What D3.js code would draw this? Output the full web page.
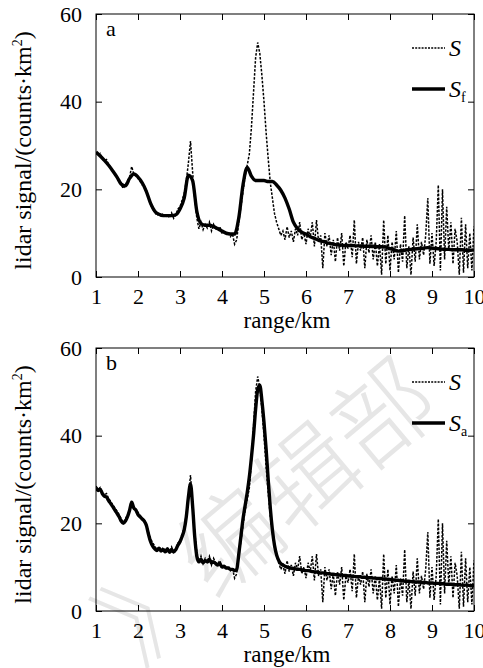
<!DOCTYPE html>
<html>
<head>
<meta charset="utf-8">
<script src="https://cdn.jsdelivr.net/npm/d3@7"></script>
<style>
  body { margin: 0; background: #fff; }
  svg { display: block; }
  text { font-family: "Liberation Serif", "Times New Roman", serif; fill: #000; }
</style>
</head>
<body>
<svg width="483" height="668"></svg>
<script>
// raw lidar signal S, 1.00 .. 10.00 km every 0.05 km
const sRaw = [
  28.5, 27.8, 28.2, 27.0, 26.5, 26.8, 25.6, 25.0, 24.2, 23.5, 22.8, 22.0, 21.0, 20.2, 21.0, 22.0, 22.8, 25.2, 23.5, 23.2,
  22.5, 21.8, 21.0, 20.8, 19.8, 18.0, 16.5, 15.5, 14.8, 14.0, 14.6, 13.8, 14.5, 13.6, 14.3, 13.5, 14.6, 13.4, 14.2, 15.5,
  16.0, 17.5, 19.0, 22.0, 26.0, 31.0, 24.0, 18.0, 13.5, 11.0, 12.5, 10.8, 12.0, 11.2, 12.5, 10.5, 12.0, 11.0, 10.8, 11.5,
  9.8, 10.5, 9.5, 10.2, 9.2, 9.8, 7.5, 8.5, 12.5, 16.0, 19.5, 23.0, 25.5, 28.0, 34.0, 42.0, 50.0, 53.5, 51.0, 46.0,
  40.0, 33.0, 27.0, 21.5, 18.0, 14.5, 12.5, 11.0, 9.5, 10.5, 8.5, 11.5, 9.0, 10.5, 8.0, 11.0, 9.5, 12.5, 8.5, 10.0,
  7.5, 11.0, 9.0, 12.5, 7.0, 13.0, 8.0, 9.5, 2.0, 10.0, 7.0, 9.5, 5.0, 8.5, 3.5, 9.0, 6.0, 10.0, 2.5, 8.0,
  6.5, 9.5, 4.5, 13.0, 3.0, 8.0, 6.0, 9.0, 2.0, 8.5, 5.5, 9.5, 4.0, 8.0, 2.5, 7.5, 0.5, 13.0, 3.0, 9.5,
  1.5, 8.0, 4.0, 10.5, 1.0, 7.5, 3.5, 14.0, 2.0, 7.0, 0.5, 9.0, 3.5, 12.0, 4.0, 8.0, 5.0, 9.5, 18.0, 3.0,
  10.0, 2.5, 8.0, 21.0, 1.5, 20.0, 4.0, 16.0, 6.0, 12.5, 3.0, 11.0, 8.0, 0.5, 13.5, 1.0, 12.0, 2.0, 10.0, 1.5,
  11.5
]
const sRawStep = 0.05

// filtered signal Sf (panel a), every 0.1 km
const sFiltered = [
  28.5, 27.6, 26.6, 25.5, 24.2, 22.8, 21.2, 20.8, 22.5, 23.5,
  22.8, 21.5, 19.5, 16.8, 15.0, 14.3, 14.0, 14.0, 14.0, 14.2,
  15.5, 18.0, 23.2, 22.0, 15.0, 12.2, 11.8, 11.8, 11.5, 11.0,
  10.5, 10.0, 9.8, 9.8, 13.5, 21.0, 25.0, 23.0, 22.0, 22.0,
  22.0, 21.8, 21.8, 21.0, 19.8, 18.0, 15.5, 12.5, 11.0, 10.2,
  9.8, 9.2, 8.8, 8.4, 8.1, 7.8, 7.6, 7.4, 7.3, 7.2,
  7.2, 7.2, 7.1, 7.1, 7.0, 7.0, 7.0, 6.9, 6.9, 6.8,
  6.5, 6.2, 5.9, 6.0, 6.2, 6.3, 6.4, 6.5, 6.6, 6.7,
  6.6, 6.5, 6.4, 6.3, 6.3, 6.2, 6.2, 6.2, 6.1, 6.1,
  6.2
]
const sFilteredStep = 0.1

// adaptive filtered signal Sa (panel b), every 0.05 km
const sAdaptive = [
  28.0, 27.5, 27.8, 26.8, 26.2, 26.0, 25.2, 24.5, 23.8, 23.0, 22.3, 21.5, 20.5, 20.0, 20.5, 21.5, 23.0, 24.8, 23.5, 23.0,
  22.0, 21.5, 21.0, 20.5, 19.5, 17.5, 15.8, 14.8, 14.2, 13.8, 14.3, 13.7, 14.0, 13.5, 14.2, 13.4, 14.0, 13.5, 14.0, 15.0,
  15.8, 17.0, 18.5, 21.5, 26.0, 29.0, 24.0, 17.0, 12.5, 11.2, 11.8, 11.0, 11.5, 11.2, 11.8, 11.0, 11.2, 10.8, 10.5, 10.8,
  10.0, 10.2, 9.8, 9.8, 9.5, 9.5, 9.2, 9.5, 13.0, 17.0, 21.0, 24.0, 27.0, 30.5, 35.0, 40.0, 46.0, 50.5, 51.5, 48.0,
  43.0, 37.0, 30.0, 23.5, 18.5, 15.0, 12.8, 11.5, 10.8, 10.5, 10.2, 10.0, 9.9, 9.8, 9.7, 9.6, 9.5, 9.5, 9.4, 9.3,
  9.2, 9.2, 9.1, 9.0, 8.9, 8.9, 8.8, 8.7, 8.7, 8.6, 8.5, 8.5, 8.4, 8.4, 8.3, 8.3, 8.2, 8.2, 8.1, 8.1,
  8.0, 8.0, 7.9, 7.9, 7.8, 7.8, 7.8, 7.7, 7.7, 7.6, 7.6, 7.6, 7.5, 7.5, 7.4, 7.4, 7.4, 7.3, 7.3, 7.2,
  7.2, 7.1, 7.1, 7.0, 7.0, 6.9, 6.9, 6.8, 6.8, 6.8, 6.7, 6.7, 6.6, 6.6, 6.6, 6.5, 6.5, 6.5, 6.4, 6.4,
  6.4, 6.3, 6.3, 6.3, 6.2, 6.2, 6.2, 6.1, 6.1, 6.1, 6.0, 6.0, 6.0, 6.0, 5.9, 5.9, 5.9, 5.9, 5.8, 5.8,
  5.8
]
const sAdaptiveStep = 0.05

const xTicks = [1, 2, 3, 4, 5, 6, 7, 8, 9, 10]
const yTicks = [0, 20, 40, 60]

const panels = [
  { label: 'a', top: 14, smooth: sFiltered, step: sFilteredStep, sub: 'f' },
  { label: 'b', top: 348, smooth: sAdaptive, step: sAdaptiveStep, sub: 'a' }
]

let svg = d3.select('svg')
let left = 96
let right = 474
let plotH = 263
let font = '"Liberation Serif", "Times New Roman", serif'

// watermark of the journal, behind everything
svg.append('text')
  .attr('transform', 'translate(230,542) rotate(-40)')
  .attr('x', -150)
  .attr('y', 36)
  .style('font-family', '"Noto Sans CJK SC", sans-serif')
  .style('font-size', '100px')
  .style('font-weight', 300)
  .style('fill', '#e6e6e6')
  .text('》编辑部')

let x = d3.scaleLinear().domain([1, 10]).range([left, right])

function toPoints (values, step) {
  return values.map(function (v, i) { return [1 + i * step, v] })
}

panels.forEach(function (p, k) {
  let y = d3.scaleLinear().domain([0, 60]).range([p.top + plotH, p.top])
  let g = svg.append('g')

  let clipId = 'clip' + k
  svg.append('clipPath').attr('id', clipId)
    .append('rect')
    .attr('x', left).attr('y', p.top)
    .attr('width', right - left).attr('height', plotH)

  let line = d3.line()
    .x(function (d) { return x(d[0]) })
    .y(function (d) { return y(d[1]) })

  // raw signal, dashed
  g.append('path')
    .datum(toPoints(sRaw, sRawStep))
    .attr('clip-path', 'url(#' + clipId + ')')
    .attr('fill', 'none')
    .attr('stroke', '#000')
    .attr('stroke-width', 1.5)
    .attr('stroke-dasharray', '2.5,1.5')
    .attr('d', line)

  // smoothed signal, thick
  g.append('path')
    .datum(toPoints(p.smooth, p.step))
    .attr('clip-path', 'url(#' + clipId + ')')
    .attr('fill', 'none')
    .attr('stroke', '#000')
    .attr('stroke-width', 3.4)
    .attr('stroke-linejoin', 'round')
    .attr('d', line.curve(d3.curveMonotoneX))

  // axes with inward ticks on all four sides
  let bottom = g.append('g')
    .attr('transform', 'translate(0,' + (p.top + plotH) + ')')
    .call(d3.axisBottom(x).tickValues(xTicks).tickSizeInner(-6).tickSizeOuter(0).tickPadding(11))
  let top = g.append('g')
    .attr('transform', 'translate(0,' + p.top + ')')
    .call(d3.axisTop(x).tickValues(xTicks).tickSizeInner(-6).tickSizeOuter(0).tickFormat(''))
  let leftAx = g.append('g')
    .attr('transform', 'translate(' + left + ',0)')
    .call(d3.axisLeft(y).tickValues(yTicks).tickSizeInner(-6).tickSizeOuter(0).tickPadding(14))
  let rightAx = g.append('g')
    .attr('transform', 'translate(' + right + ',0)')
    .call(d3.axisRight(y).tickValues(yTicks).tickSizeInner(-6).tickSizeOuter(0).tickFormat(''))

  ;[bottom, top, leftAx, rightAx].forEach(function (a) {
    a.select('.domain').remove()
    a.selectAll('line').attr('stroke', '#000')
    a.selectAll('text')
      .style('font-family', font)
      .style('font-size', '22px')
      .attr('fill', '#000')
  })

  g.append('rect')
    .attr('x', left).attr('y', p.top)
    .attr('width', right - left).attr('height', plotH)
    .attr('fill', 'none')
    .attr('stroke', '#000')
    .attr('stroke-width', 1)

  // panel letter
  g.append('text')
    .attr('x', left + 10).attr('y', p.top + 22)
    .style('font-size', '22px')
    .text(p.label)

  // axis titles
  g.append('text')
    .attr('x', (left + right) / 2 + 2)
    .attr('y', p.top + plotH + 51)
    .attr('text-anchor', 'middle')
    .style('font-size', '23px')
    .text('range/km')

  let yt = g.append('text')
    .attr('transform', 'translate(31,' + (p.top + plotH / 2 + 5) + ') rotate(-90)')
    .attr('text-anchor', 'middle')
    .style('font-size', '24px')
  yt.append('tspan').text('lidar signal/(counts·km')
  yt.append('tspan').attr('dy', -9).style('font-size', '14px').text('2')
  yt.append('tspan').attr('dy', 9).text(')')

  // legend
  let lx = 412
  let ly = p.top + 34
  g.append('line')
    .attr('x1', lx).attr('x2', lx + 33).attr('y1', ly).attr('y2', ly)
    .attr('stroke', '#000').attr('stroke-width', 1.5).attr('stroke-dasharray', '2,1.2')
  g.append('text')
    .attr('x', lx + 37).attr('y', ly + 8)
    .style('font-size', '24px').style('font-style', 'italic')
    .text('S')
  g.append('line')
    .attr('x1', lx).attr('x2', lx + 33).attr('y1', ly + 41).attr('y2', ly + 41)
    .attr('stroke', '#000').attr('stroke-width', 3.4)
  let st = g.append('text')
    .attr('x', lx + 37).attr('y', ly + 49)
    .style('font-size', '24px').style('font-style', 'italic')
  st.append('tspan').text('S')
  st.append('tspan').attr('dy', 5).style('font-size', '14px').style('font-style', 'normal').text(p.sub)
})
</script>
</body>
</html>
